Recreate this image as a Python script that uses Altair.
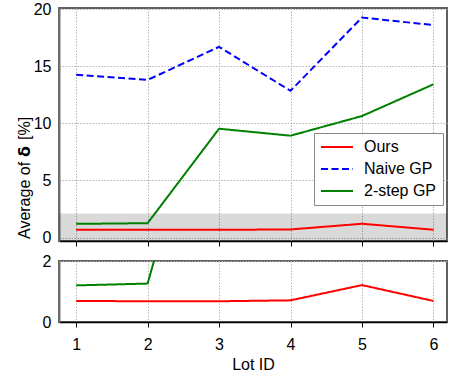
import altair as alt
import pandas as pd

# ---- data ----
lots = [1, 2, 3, 4, 5, 6]
methods = ["Ours", "Naive GP", "2-step GP"]
ours = [0.69, 0.68, 0.68, 0.71, 1.21, 0.69]
naive_gp = [14.25, 13.8, 16.7, 12.85, 19.27, 18.6]
two_step_gp = [1.20, 1.26, 9.53, 8.92, 10.64, 13.42]
top_ticks = [0, 5, 10, 15, 20]
bottom_ticks = [0, 1, 2]
band_low, band_high = -0.3, 2.1

colors = ["#ff0000", "#0000ff", "#008000"]
dashes = [[1, 0], [7, 3.5], [1, 0]]

df = pd.DataFrame({
    "lot": lots * 3,
    "method": [methods[0]] * 6 + [methods[1]] * 6 + [methods[2]] * 6,
    "value": ours + naive_gp + two_step_gp,
})
band_df = pd.DataFrame({"lo": [band_low], "hi": [band_high]})

FONT = "Liberation Sans"
W, H1, H2 = 388, 233, 61
GRID = dict(grid=True, gridColor="#b4b4b4", gridDash=[1.5, 1.5], gridWidth=1)

xdom = alt.Scale(domain=[0.76, 6.19], nice=False, zero=False)

legend = alt.Legend(
    title=None, orient="none", legendX=255, legendY=125,
    symbolType="stroke", symbolSize=1024, symbolStrokeWidth=2,
    labelFontSize=16, labelFont=FONT, labelColor="black", labelOffset=10,
    clipHeight=16, rowPadding=6, padding=6,
    strokeColor="#888888", fillColor="white",
)
color = alt.Color("method:N", scale=alt.Scale(domain=methods, range=colors), legend=legend)
dash = alt.StrokeDash("method:N", scale=alt.Scale(domain=methods, range=dashes), legend=legend)

# ---------- top panel ----------
ytop = alt.Scale(domain=[band_low, 20.1], nice=False, zero=False)

band = alt.Chart(band_df).mark_rect(color="black", opacity=0.15, clip=True).encode(
    x=alt.value(0), x2=alt.value(W),
    y=alt.Y("lo:Q", scale=ytop), y2="hi:Q",
)

lines_top = alt.Chart(df).mark_line(strokeWidth=2, clip=True).encode(
    x=alt.X("lot:Q", scale=xdom,
            axis=alt.Axis(values=lots, labels=False, title=None, tickSize=5,
                          tickColor="black", domainColor="black", domainWidth=1.5, **GRID)),
    y=alt.Y("value:Q", scale=ytop,
            axis=alt.Axis(values=top_ticks, title=None, tickSize=0, labelPadding=8,
                          labelFontSize=16, domainColor="#707070", domainWidth=2, **GRID)),
    color=color, strokeDash=dash, order="lot:Q",
)

one = alt.Data(values=[{}])
title_a = alt.Chart(one).mark_text(text="Average of", angle=270, align="left", baseline="middle",
                                   font=FONT, fontSize=16, color="black").encode(
    x=alt.value(-34), y=alt.value(231))
title_b = alt.Chart(one).mark_text(text="δ", angle=270, align="left", baseline="middle",
                                   font="DejaVu Sans", fontWeight="bold", fontSize=16, color="black").encode(
    x=alt.value(-34), y=alt.value(149))
title_c = alt.Chart(one).mark_text(text="[%]", angle=270, align="left", baseline="middle",
                                   font=FONT, fontSize=16, color="black").encode(
    x=alt.value(-34), y=alt.value(132))

top = alt.layer(band, lines_top, title_a, title_b, title_c).properties(width=W, height=H1)

# ---------- bottom panel ----------
ybot = alt.Scale(domain=[0, 2], nice=False, zero=False)
lines_bot = alt.Chart(df).mark_line(strokeWidth=2, clip=True).encode(
    x=alt.X("lot:Q", scale=xdom,
            axis=alt.Axis(values=lots, title="Lot ID", tickSize=5, tickColor="black",
                          domainColor="black", domainWidth=1.5, labelFontSize=16,
                          labelPadding=9, titleFontSize=16, titleFontWeight="normal",
                          titlePadding=4, **GRID)),
    y=alt.Y("value:Q", scale=ybot,
            axis=alt.Axis(values=bottom_ticks, format="d", title=None, tickSize=0, labelPadding=8,
                          labelFontSize=16, domainColor="#707070", domainWidth=2, **GRID)),
    color=color, strokeDash=dash, order="lot:Q",
)
bottom = lines_bot.properties(width=W, height=H2)

chart = alt.vconcat(top, bottom, spacing=4).properties(
    padding={"left": 16, "top": 0, "right": 0, "bottom": 0}
).configure_view(stroke="#606060", strokeWidth=2).configure_axis(
    labelFont=FONT, titleFont=FONT, labelColor="black", titleColor="black"
)

chart.save("out.html", embed_options={"renderer": "svg", "actions": False})
